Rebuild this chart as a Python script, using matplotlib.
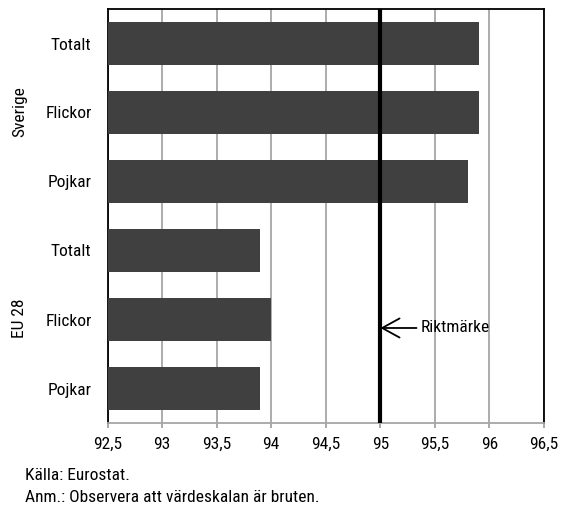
import matplotlib
matplotlib.use("Agg")
import matplotlib.pyplot as plt
from matplotlib.ticker import FuncFormatter
from matplotlib import font_manager

# pick a narrow family if one is installed
names = {f.name for f in font_manager.fontManager.ttflist}
narrow = [n for n in ["Liberation Sans Narrow", "Roboto Condensed", "Open Sans Condensed",
                      "DejaVu Sans Condensed"] if n in names]
plt.rcParams['font.family'] = narrow + ['DejaVu Sans']
plt.rcParams['font.stretch'] = 'condensed'

# data (top to bottom)
categories = ["Totalt", "Flickor", "Pojkar", "Totalt", "Flickor", "Pojkar"]
values = [95.9, 95.9, 95.8, 93.9, 94.0, 93.9]
groups = ["Sverige", "EU 28"]
target = 95.0
xticks = [92.5, 93, 93.5, 94, 94.5, 95, 95.5, 96, 96.5]

fs = 12.5
fig = plt.figure(figsize=(5.61, 5.07), dpi=100)
ax = fig.add_axes([107.5 / 561, 1 - 423 / 507, 436.5 / 561, 414 / 507])

pos = list(range(len(categories)))
ax.barh(pos, [v - xticks[0] for v in values], left=xticks[0], height=0.61,
        color="#404040", zorder=3)
ax.set_ylim(len(categories) - 0.5, -0.5)
ax.set_xlim(xticks[0], xticks[-1])
ax.set_yticks(pos)
ax.set_yticklabels(categories, fontsize=fs)
ax.tick_params(axis="y", length=0, pad=11.5)
ax.set_xticks(xticks)
ax.xaxis.set_major_formatter(FuncFormatter(lambda v, p: f"{v:g}".replace(".", ",")))
ax.tick_params(axis="x", direction="out", length=3.6, width=1.2, color="#999999",
               labelsize=fs, pad=6.5)

ax.grid(axis="x", color="#a6a6a6", linewidth=1.3, zorder=0)
ax.axvline(target, color="black", linewidth=3, zorder=4)

for s in ["top", "left", "right"]:
    ax.spines[s].set_color("black")
    ax.spines[s].set_linewidth(1.3)
ax.spines["bottom"].set_color("#a6a6a6")
ax.spines["bottom"].set_linewidth(1.3)

# group labels
fig.text(20 / 561, 1 - 112 / 507, groups[0], rotation=90, ha="center", va="center", fontsize=fs)
fig.text(20 / 561, 1 - 318 / 507, groups[1], rotation=90, ha="center", va="center", fontsize=fs)

ax.annotate("Riktmärke", xy=(target, 4.123), xytext=(95.37, 4.123),
            va="center", ha="left", fontsize=fs,
            arrowprops=dict(arrowstyle="->,head_length=1.0,head_width=0.55",
                            color="black", lw=1.3, shrinkA=1, shrinkB=0))

fig.text(25 / 561, 1 - 475 / 507, "Källa: Eurostat.", fontsize=fs, va="center")
fig.text(25 / 561, 1 - 497 / 507, "Anm.: Observera att värdeskalan är bruten.", fontsize=fs, va="center")

fig.savefig("out.png", dpi=100)
